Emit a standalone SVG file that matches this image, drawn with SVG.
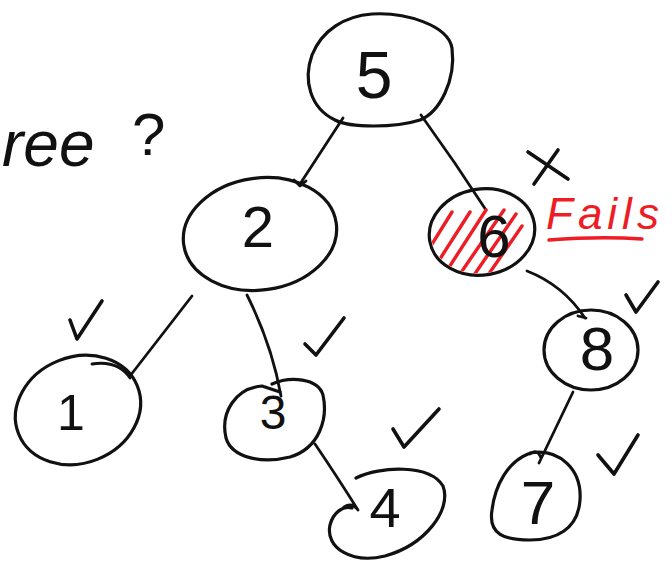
<svg xmlns="http://www.w3.org/2000/svg" width="672" height="564" viewBox="0 0 672 564">
<style>
.n{fill:none;stroke:#111;stroke-width:3.2;stroke-linecap:round;stroke-linejoin:round}
.e{fill:none;stroke:#111;stroke-width:2.8;stroke-linecap:round;stroke-linejoin:round}
.t{font-family:"Liberation Sans",Arial,sans-serif;fill:#111;text-anchor:middle}
.r{fill:none;stroke:#ee1c24;stroke-width:3.4;stroke-linecap:round}
.ck{fill:none;stroke:#111;stroke-width:3.6;stroke-linecap:round;stroke-linejoin:round}
</style>
<defs>
<clipPath id="c6"><ellipse cx="482" cy="232" rx="51" ry="41" transform="rotate(-10 482 232)"/></clipPath>
</defs>
<rect width="672" height="564" fill="#fff"/>
<text x="2" y="166" style="font-family:'Liberation Sans',Arial,sans-serif;font-size:64px;font-style:italic;fill:#111;font-weight:300">ree</text>
<text x="132" y="155" style="font-family:'Liberation Sans',Arial,sans-serif;font-size:60px;fill:#111">?</text>
<g id="connectors">
<path class="e" d="M343,118 L300,184 M294,180 L300,186 L306,181"/>
<path class="e" d="M421,115 Q455,162 486,210"/>
<path class="e" d="M192,296 L130,376 M92,364 Q118,360 130,378"/>
<path class="e" d="M247,295 Q272,345 281,396"/>
<path class="e" d="M315,444 Q338,478 358,510 M344,507 Q352,502 358,510"/>
<path class="e" d="M527,271 Q563,285 585,318 M578,316 L586,318"/>
<path class="e" d="M573,392 L539,463 M530,454 Q537,448 541,458"/>
</g>
<g id="node5">
<path class="n" d="M372,14 C405,12 448,25 452,48 C456,80 440,112 420,120 C395,128 350,128 335,120 C310,108 303,80 312,55 C322,30 345,16 372,14 Z"/>
<text class="t" x="374" y="98" font-size="66">5</text>
</g>
<g id="node2">
<ellipse class="n" cx="260" cy="234" rx="77" ry="56" transform="rotate(-8 260 234)"/>
<text class="t" x="258" y="247" font-size="58">2</text>
</g>
<g id="node6">
<ellipse class="n" cx="482" cy="232" rx="53" ry="43" transform="rotate(-10 482 232)"/>
<g clip-path="url(#c6)">
<path class="r" d="M432,244 L452,212 M438,262 L470,212 M446,272 L486,210 M460,274 L504,210 M472,278 L516,214 M486,278 L522,226"/>
</g>
<text class="t" x="494" y="257" font-size="60">6</text>
</g>
<g id="node1">
<ellipse class="n" cx="78" cy="410" rx="64" ry="53" transform="rotate(-22 78 410)"/>
<text class="t" x="71" y="430" font-size="50">1</text>
</g>
<g id="node3">
<path class="n" d="M272,384 C290,376 318,378 323,395 C328,418 320,448 290,457 C262,464 232,458 226,438 C220,412 236,388 262,386 L280,392"/>
<text class="t" x="273" y="429" font-size="48">3</text>
</g>
<g id="node4">
<path class="n" d="M356,478 C380,466 430,464 443,486 C452,510 425,545 385,556 C352,564 325,548 330,525 C333,513 343,505 352,508"/>
<text class="t" x="385" y="527" font-size="56">4</text>
</g>
<g id="node8">
<ellipse class="n" cx="591" cy="350" rx="47" ry="40"/>
<text class="t" x="597" y="370" font-size="62">8</text>
</g>
<g id="node7">
<path class="n" d="M530,453 C560,448 582,470 580,500 C578,530 555,540 530,540 C505,540 488,535 492,510 C495,485 508,462 528,454"/>
<text class="t" x="538" y="524" font-size="62">7</text>
</g>
<g id="marks">
<path class="ck" d="M70,320 L77,339 L102,301"/>
<path class="ck" d="M305,344 L316,355 L344,318"/>
<path class="ck" d="M393,429 L404,447 L439,409"/>
<path class="ck" d="M598,455 L614,474 L638,435"/>
<path class="ck" d="M626,295 L636,312 L658,282"/>
<path class="ck" d="M528,152 L568,179 M558,150 L534,184"/>
</g>
<g id="fails">
<text x="546" y="229" style="font-family:'Liberation Sans',Arial,sans-serif;font-size:44px;font-style:italic;letter-spacing:5px;fill:#ee1c24">Fails</text>
<path class="r" d="M549,240 Q600,236 642,239"/>
</g>
</svg>
